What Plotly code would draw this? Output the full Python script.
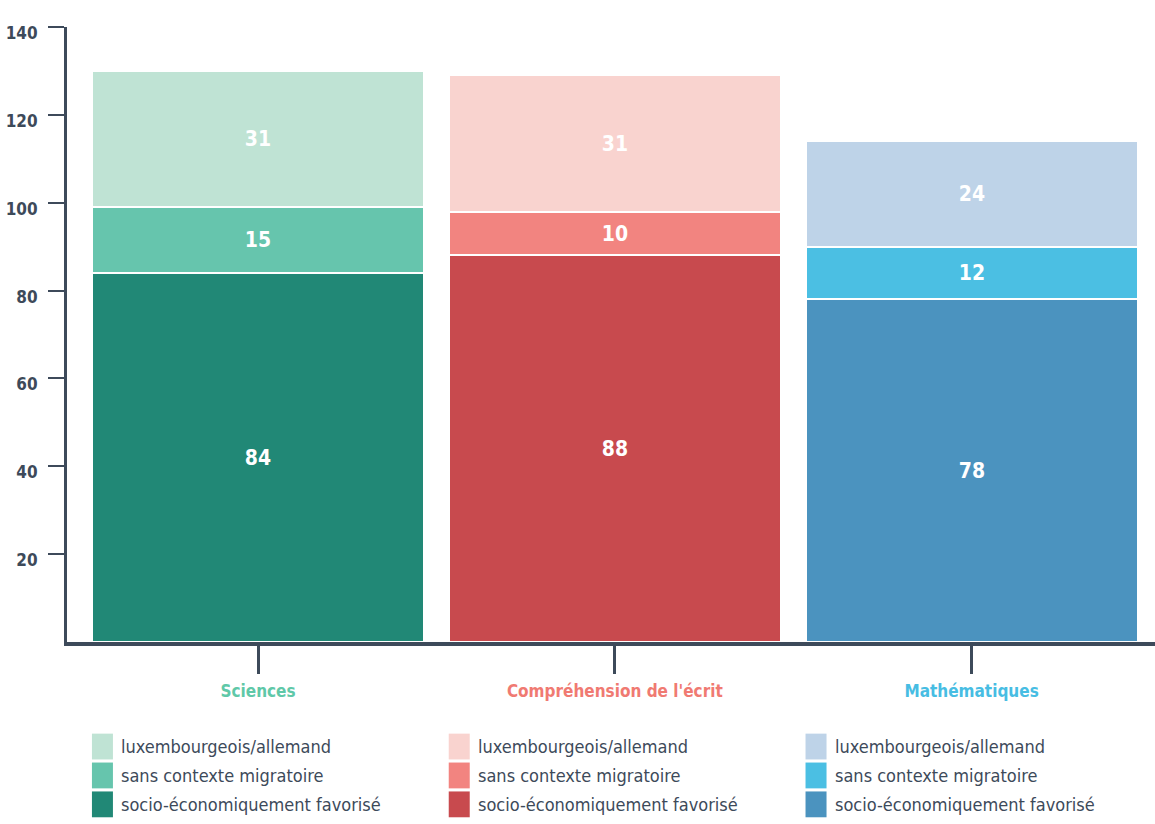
import plotly.graph_objects as go

# Subjects and stacked segment values (bottom to top)
subjects = ["Sciences", "Compréhension de l'écrit", "Mathématiques"]
favorise = [84, 88, 78]          # socio-économiquement favorisé
sans_migration = [15, 10, 12]    # sans contexte migratoire
lux_allemand = [31, 31, 24]      # luxembourgeois/allemand

series_names = [
    "socio-économiquement favorisé",
    "sans contexte migratoire",
    "luxembourgeois/allemand",
]

y_ticks = [20, 40, 60, 80, 100, 120, 140]

# Palette per subject: dark, medium, light
palettes = [
    ["#218876", "#66c5ad", "#bfe3d4"],
    ["#c84a4e", "#f28480", "#f9d3cf"],
    ["#4b93bf", "#4bbfe3", "#bed3e8"],
]
label_colors = ["#5fc8a8", "#f07a72", "#47bde3"]

AXIS = "#3d4a5a"
FONT = "DejaVu Sans Condensed"
BAR_W = 0.931

fig = go.Figure()

stack = [favorise, sans_migration, lux_allemand]
for level, values in enumerate(stack):
    fig.add_trace(go.Bar(
        x=list(range(len(subjects))),
        y=values,
        name=series_names[level],
        width=BAR_W,
        marker=dict(
            color=[palettes[i][level] for i in range(len(subjects))],
            line=dict(color="white", width=2),
        ),
        text=[str(v) for v in values],
        textposition="inside",
        insidetextanchor="middle",
        textangle=0,
        textfont=dict(color="white", size=21, family=FONT, weight="bold"),
        showlegend=False,
        hoverinfo="skip",
    ))

# Legend block under each bar, listed from top segment to bottom segment
row_y = [-0.170, -0.217, -0.264]
sw_h = 0.042
sw_w = 21 / 356.75
shapes = []
annotations = []
for i in range(len(subjects)):
    x0 = i - BAR_W / 2
    for r, level in enumerate([2, 1, 0]):
        yc = row_y[r]
        shapes.append(dict(
            type="rect", xref="x", yref="paper",
            x0=x0, x1=x0 + sw_w, y0=yc - sw_h / 2, y1=yc + sw_h / 2,
            fillcolor=palettes[i][level], line=dict(width=0),
        ))
        annotations.append(dict(
            xref="x", yref="paper", x=x0 + 27 / 356.75, y=yc,
            xanchor="left", yanchor="middle", showarrow=False,
            text=series_names[level],
            font=dict(family=FONT, size=18, color=AXIS),
        ))

tick_text = [
    f'<span style="color:{label_colors[i]}">{s}</span>'
    for i, s in enumerate(subjects)
]

fig.update_layout(
    width=1155, height=824,
    margin=dict(l=67, r=0, t=27, b=182),
    paper_bgcolor="white", plot_bgcolor="white",
    barmode="stack",
    bargap=0,
    font=dict(family=FONT, color=AXIS),
    shapes=shapes,
    annotations=annotations,
    uniformtext=dict(mode=False),
)

fig.update_xaxes(
    range=[-0.5354, 2.514],
    tickvals=list(range(len(subjects))),
    ticktext=tick_text,
    showline=True, linecolor=AXIS, linewidth=4,
    ticks="outside", ticklen=28, tickwidth=3, tickcolor=AXIS,
    ticklabelstandoff=3,
    tickfont=dict(family=FONT, size=17, weight="bold"),
    showgrid=False, zeroline=False,
)

fig.update_yaxes(
    range=[0, 140],
    tickvals=y_ticks,
    showline=True, linecolor=AXIS, linewidth=3,
    ticks="outside", ticklen=16, tickwidth=2, tickcolor=AXIS,
    ticklabelstandoff=7, ticklabelshift=6,
    tickfont=dict(family=FONT, size=17, color=AXIS, weight="bold"),
    showgrid=False, zeroline=False,
)

fig.write_html("out.html")
